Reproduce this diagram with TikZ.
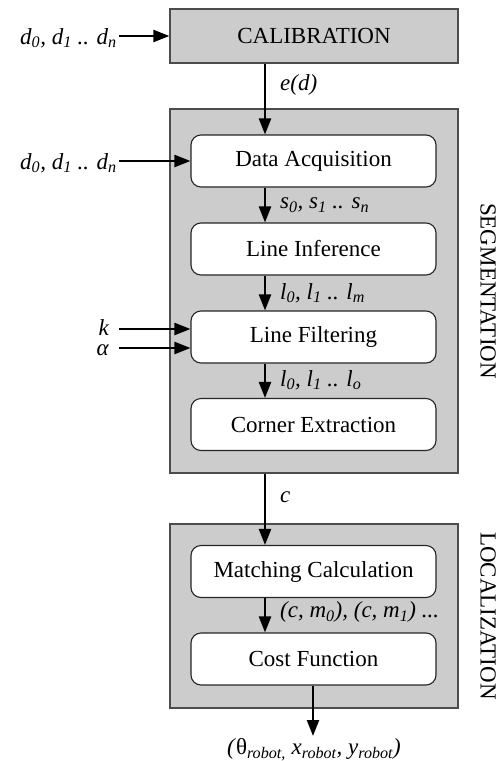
\documentclass[tikz,border=0pt]{standalone}
\usepackage{fontspec}
\setmainfont{Liberation Serif}
\usetikzlibrary{arrows.meta}
\newcommand\dgfs{\fontsize{23}{27}\selectfont}
\begin{document}
\begin{tikzpicture}[x=1pt,y=-1pt,
  group/.style={draw=black!70, line width=1.2pt, fill=black!20, minimum width=288pt, inner sep=0pt, font=\dgfs},
  stepbox/.style={draw=black!85, line width=1.1pt, fill=white, rounded corners=10pt, minimum width=245pt, minimum height=52pt, inner sep=0pt, font=\dgfs},
  arr/.style={line width=2.3pt, -{Triangle[length=16pt,width=12pt]}},
  lbl/.style={inner sep=0pt, font=\dgfs\itshape},
  side/.style={inner sep=0pt, font=\dgfs, rotate=-90}]
\useasboundingbox (0,0) rectangle (502,761);
% group boxes
\node[group, minimum height=54pt] (cal) at (314,36) {CALIBRATION};
\node[group, minimum height=364pt] (seg) at (314,291) {};
\node[group, minimum height=184pt] (loc) at (314,616) {};
% steps
\node[stepbox] (da) at (313.5,161) {Data Acquisition};
\node[stepbox] (li) at (313.5,249) {Line Inference};
\node[stepbox] (lf) at (313.5,337) {Line Filtering};
\node[stepbox] (ce) at (313.5,424.5) {Corner Extraction};
\node[stepbox] (mc) at (313.5,571.5) {Matching Calculation};
\node[stepbox] (cf) at (313.5,659) {Cost Function};
% side labels
\node[side] (segl) at (488,291) {SEGMENTATION};
\node[side] (locl) at (488,616) {LOCALIZATION};
% main column
\coordinate (ax) at (265,0);
\coordinate (ox) at (313,0);
\draw[arr] (cal.south -| ax) -- (da.north -| ax);
\draw[arr] (da.south -| ax) -- (li.north -| ax);
\draw[arr] (li.south -| ax) -- (lf.north -| ax);
\draw[arr] (lf.south -| ax) -- (ce.north -| ax);
\draw[arr] (seg.south -| ax) -- (mc.north -| ax);
\draw[arr] (mc.south -| ax) -- (cf.north -| ax);
\coordinate (outend) at (313,736);
\draw[arr] (cf.south -| ox) -- (outend);
% flow labels
\node[lbl, anchor=west] (ed) at (280,85) {e(d)};
\node[lbl, anchor=west] (sl) at (280,205) {s\textsubscript{0}, s\textsubscript{1} .. s\textsubscript{n}};
\node[lbl, anchor=west] (ll) at (280,293) {l\textsubscript{0}, l\textsubscript{1} .. l\textsubscript{m}};
\node[lbl, anchor=west] (lo) at (280,380) {l\textsubscript{0}, l\textsubscript{1} .. l\textsubscript{o}};
\node[lbl, anchor=west] (cl) at (280,497) {c};
\node[lbl, anchor=west] (cm) at (280,612) {(c, m\textsubscript{0}), (c, m\textsubscript{1}) ...};
\node[lbl, anchor=north] (out) at (314,738) {(\textup{θ}\textsubscript{robot,} x\textsubscript{robot}, y\textsubscript{robot})};
% inputs
\node[lbl, anchor=east] (in1) at (117,38) {d\textsubscript{0}, d\textsubscript{1} .. d\textsubscript{n}};
\node[lbl, anchor=east] (in2) at (117,163) {d\textsubscript{0}, d\textsubscript{1} .. d\textsubscript{n}};
\node[lbl, anchor=base east, text depth=0pt] (kin) at (109,335) {k};
\node[lbl, anchor=base east, text height=10pt, text depth=0pt] (ain) at (109,355) {α};
\coordinate (sx) at (119,0);
\coordinate (ky) at (0,329);
\coordinate (ay) at (0,348);
\draw[arr] (sx |- cal.west) -- (cal.west);
\draw[arr] (sx |- da.west) -- (da.west);
\draw[arr] (sx |- ky) -- (lf.west |- ky);
\draw[arr] (sx |- ay) -- (lf.west |- ay);
\end{tikzpicture}
\end{document}
